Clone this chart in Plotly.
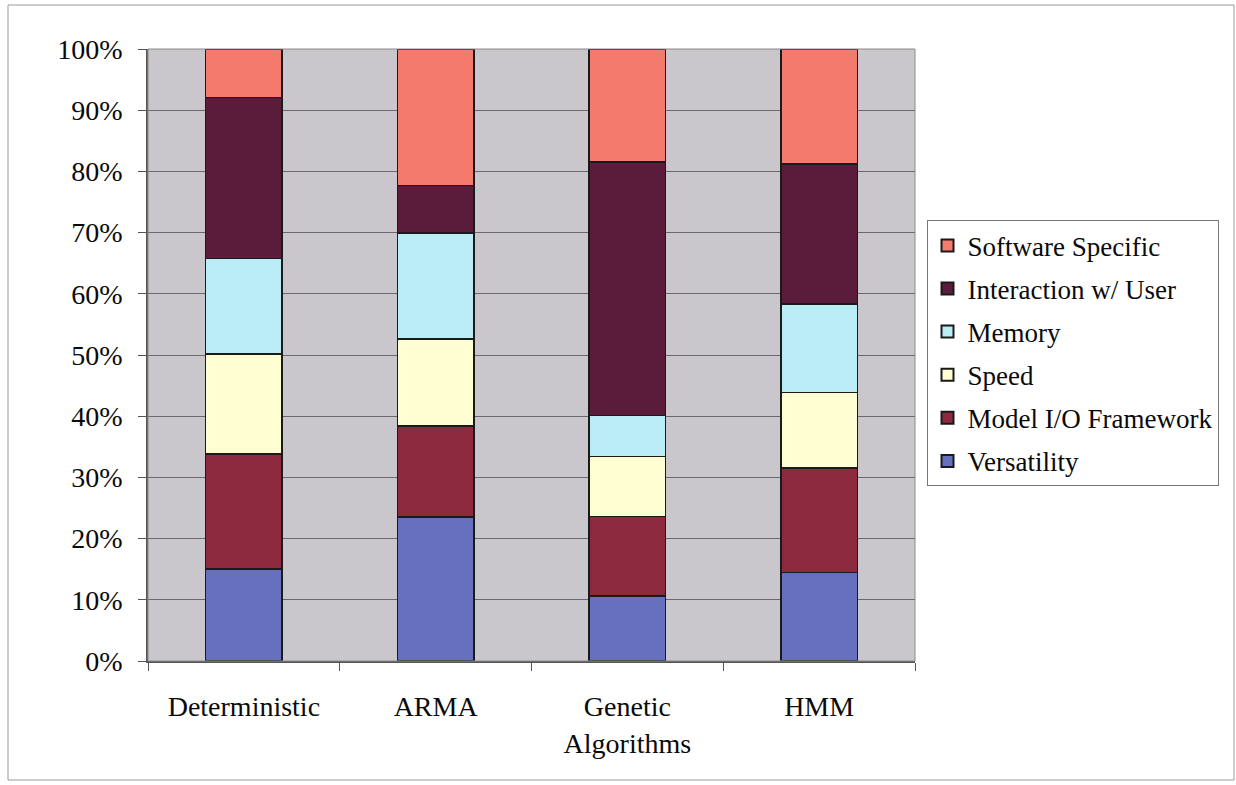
import plotly.graph_objects as go

# Categories (x axis) and share of each requirement per forecasting approach (%)
categories = ["Deterministic", "ARMA", "Genetic<br>Algorithms", "HMM"]
series_names = ["Versatility", "Model I/O Framework", "Speed", "Memory",
                "Interaction w/ User", "Software Specific"]
versatility = [15.0, 23.5, 10.6, 14.5]
model_io = [18.8, 14.9, 13.0, 17.0]
speed = [16.4, 14.2, 9.8, 12.4]
memory = [15.6, 17.3, 6.7, 14.4]
interaction = [26.3, 7.8, 41.4, 22.9]
software_specific = [7.9, 22.3, 18.5, 18.8]
y_ticks = [0, 10, 20, 30, 40, 50, 60, 70, 80, 90, 100]
y_tick_labels = [f"{t}%" for t in y_ticks]

series_values = [versatility, model_io, speed, memory, interaction, software_specific]
colors = ["#6670BE", "#8D2A3F", "#FFFED2", "#B9ECF4", "#5A1C3A", "#F47A6E"]

font_family = "Liberation Serif"
text_color = "#0a0a0a"

fig = go.Figure()
n = len(series_names)
for i, (name, vals, col) in enumerate(zip(series_names, series_values, colors)):
    fig.add_trace(go.Bar(
        x=categories, y=vals, name=name, legendgroup=name,
        legendrank=n - i,  # top of the stack listed first
        marker=dict(color=col, line=dict(color="#1a1a1a", width=1.5)),
        width=0.4,
    ))

fig.update_layout(
    barmode="stack",
    width=1236, height=785,
    margin=dict(l=148, r=321, t=49, b=124),
    paper_bgcolor="white",
    plot_bgcolor="#C9C7CB",
    font=dict(family=font_family, size=27, color=text_color),
    showlegend=True,
    legend=dict(
        traceorder="grouped",
        x=1.015, y=0.72, xanchor="left", yanchor="top",
        bgcolor="white", bordercolor="#777777", borderwidth=1,
        font=dict(family=font_family, size=27, color=text_color),
        itemsizing="constant",
        tracegroupgap=5,
    ),
    bargap=0.6,
)

fig.update_xaxes(
    showgrid=False,
    showline=True, linecolor="#555555", linewidth=1.5,
    ticks="outside", tickson="boundaries", ticklen=8, tickcolor="#555555",
    tickfont=dict(family=font_family, size=28, color=text_color),
    ticklabelstandoff=20,
    mirror=False,
)
fig.update_yaxes(
    range=[0, 100],
    tickmode="array", tickvals=y_ticks, ticktext=y_tick_labels,
    showgrid=True, gridcolor="#6E6670", gridwidth=1,
    showline=True, linecolor="#555555", linewidth=1.5,
    ticks="outside", ticklen=8, tickcolor="#555555",
    tickfont=dict(family=font_family, size=28, color=text_color),
    ticklabelstandoff=10,
    zeroline=False,
)

# Plot-area outline on top and right
fig.add_shape(type="rect", xref="paper", yref="paper", x0=0, x1=1, y0=0, y1=1,
              line=dict(color="#8A8A8A", width=1), layer="above")
# Outer chart frame
fig.add_shape(type="rect", xref="paper", yref="paper",
              x0=-140 / 767, x1=(1234 - 148) / 767,
              y0=-(780 - 661) / 612, y1=(661 - 5) / 612,
              line=dict(color="#9A9A9A", width=1), layer="below")

fig.write_html("out.html")
